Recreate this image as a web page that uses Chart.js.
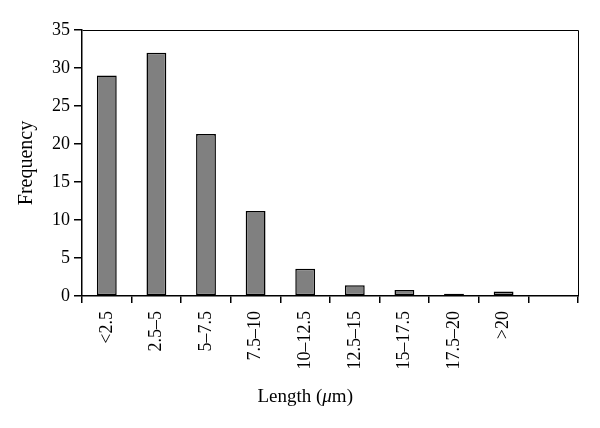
<!DOCTYPE html>
<html>
<head>
<meta charset="utf-8">
<script src="https://cdn.jsdelivr.net/npm/chart.js@4/dist/chart.umd.min.js"></script>
<style>
  html, body { margin: 0; padding: 0; background: #fff; }
  #wrap { width: 600px; height: 428px; }
</style>
</head>
<body>
<div id="wrap"><canvas id="c" width="600" height="428"></canvas></div>
<script>
const categories = ['<2.5', '2.5\u20135', '5\u20137.5', '7.5\u201310', '10\u201312.5', '12.5\u201315', '15\u201317.5', '17.5\u201320', '>20', ''];
const frequency = [29, 32, 21.3, 11.2, 3.6, 1.4, 0.8, 0.3, 0.6, null];
const yTicks = [0, 5, 10, 15, 20, 25, 30, 35];
const yTitle = 'Frequency';
const xTitleParts = [['Length (', 'normal'], ['\u03bc', 'italic'], ['m)', 'normal']];

const FONT = '"Liberation Serif", "Times New Roman", serif';

const framePlugin = {
  id: 'frame',
  afterDraw(chart) {
    const { ctx, chartArea: a } = chart;
    ctx.save();
    ctx.strokeStyle = '#000';
    ctx.lineWidth = 1;
    ctx.beginPath();
    ctx.moveTo(Math.round(a.left) + 0.5, Math.round(a.top) + 0.5);
    ctx.lineTo(Math.round(a.right) + 0.5, Math.round(a.top) + 0.5);
    ctx.lineTo(Math.round(a.right) + 0.5, Math.round(a.bottom) + 0.5);
    ctx.stroke();
    // x axis title
    const xs = chart.scales.x;
    const cx = (xs.getPixelForValue(0) + xs.getPixelForValue(categories.length - 2)) / 2;
    ctx.fillStyle = '#000';
    ctx.textBaseline = 'alphabetic';
    let total = 0;
    const widths = xTitleParts.map(([t, s]) => {
      ctx.font = s + ' 19px ' + FONT;
      const w = ctx.measureText(t).width;
      total += w;
      return w;
    });
    let x = cx - total / 2;
    xTitleParts.forEach(([t, s], i) => {
      ctx.font = s + ' 19px ' + FONT;
      ctx.textAlign = 'left';
      ctx.fillText(t, x, 402);
      x += widths[i];
    });
    ctx.restore();
  }
};

new Chart(document.getElementById('c'), {
  type: 'bar',
  data: {
    labels: categories,
    datasets: [{
      data: frequency,
      backgroundColor: '#808080',
      borderColor: '#000',
      borderWidth: 1.5,
      borderSkipped: false,
      barPercentage: 0.4,
      categoryPercentage: 1.0
    }]
  },
  options: {
    responsive: false,
    animation: false,
    events: [],
    layout: { padding: { left: 8, right: 22, top: 30, bottom: 0 } },
    plugins: { legend: { display: false }, tooltip: { enabled: false } },
    scales: {
      x: {
        grid: { display: true, offset: true, drawOnChartArea: false, drawTicks: true, tickLength: 7, color: '#000', lineWidth: 1.5 },
        border: { display: true, color: '#000', width: 1.5 },
        ticks: { color: '#000', font: { family: FONT, size: 18 }, maxRotation: 90, minRotation: 90, padding: 8, autoSkip: false },
        afterFit(s) { s.height = 132; }
      },
      y: {
        min: 0, max: 35,
        afterBuildTicks(s) { s.ticks = yTicks.map(v => ({ value: v })); },
        grid: { display: true, drawOnChartArea: false, drawTicks: true, tickLength: 8, color: '#000', lineWidth: 1.5 },
        border: { display: true, color: '#000', width: 1.5 },
        ticks: { color: '#000', font: { family: FONT, size: 18 }, padding: 4 },
        title: { display: true, text: yTitle, color: '#000', font: { family: FONT, size: 20 }, padding: { top: 7, bottom: 4 } },
        afterFit(s) { s.width = 74; }
      }
    }
  },
  plugins: [framePlugin]
});
</script>
</body>
</html>
